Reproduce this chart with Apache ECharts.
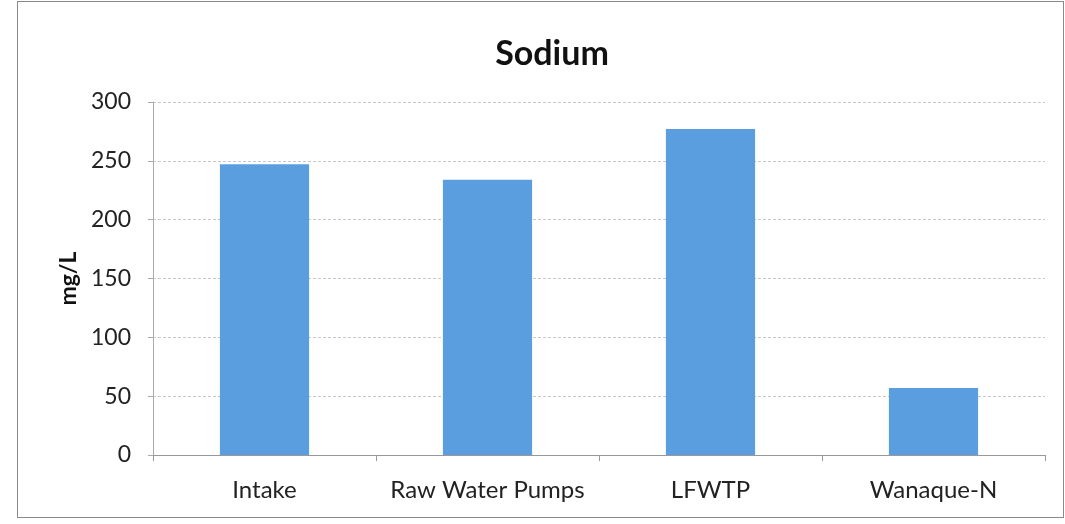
<!DOCTYPE html>
<html>
<head>
<meta charset="utf-8">
<style>
  html, body { margin: 0; padding: 0; background: #fff; }
  #frame { position: absolute; left: 17px; top: 1px; width: 1045px; height: 515px; border: 1px solid #8a8a8a; }
  #chart { position: absolute; left: 0; top: 0; width: 1065px; height: 524px; }
</style>
<script src="https://cdn.jsdelivr.net/npm/echarts@6/dist/echarts.min.js"></script>
</head>
<body>
<div id="frame"></div>
<div id="chart"></div>
<script>
// sites sampled and sodium values (mg/L)
const categories = ['Intake', 'Raw Water Pumps', 'LFWTP', 'Wanaque-N'];
const sodium = [247, 234, 277, 57];
const yTicks = [0, 50, 100, 150, 200, 250, 300];

const chart = echarts.init(document.getElementById('chart'));
const font = 'Lato, "Open Sans", sans-serif';

const option = {
    animation: false,
    title: {
        text: 'Sodium',
        left: 547,
        textAlign: 'center',
        top: 32,
        textStyle: { fontFamily: font, fontSize: 34, fontWeight: 'bold', color: '#111' }
    },
    grid: { left: 153, right: 20, top: 102, bottom: 69 },
    xAxis: {
        type: 'category',
        data: categories,
        boundaryGap: true,
        axisLine: { lineStyle: { color: '#999' } },
        axisTick: { show: true, length: 6, interval: 0, lineStyle: { color: '#999' } },
        axisLabel: { interval: 0, margin: 23, fontFamily: font, fontSize: 24, color: '#222' }
    },
    yAxis: {
        type: 'value',
        min: yTicks[0],
        max: yTicks[yTicks.length - 1],
        interval: 50,
        name: 'mg/L',
        nameLocation: 'middle',
        nameGap: 70,
        nameTextStyle: { fontFamily: font, fontSize: 23, fontWeight: 'bold', color: '#111' },
        axisLine: { show: true, lineStyle: { color: '#aaa' } },
        axisTick: { show: true, length: 5, lineStyle: { color: '#aaa' } },
        axisLabel: { margin: 22, fontFamily: font, fontSize: 23, color: '#222' },
        splitLine: { lineStyle: { color: '#c8c8c8', type: [3, 2] } }
    },
    series: [{
        type: 'bar',
        data: sodium,
        barWidth: '40%',
        itemStyle: { color: '#5b9ee0' }
    }]
};

chart.setOption(option);
</script>
</body>
</html>
